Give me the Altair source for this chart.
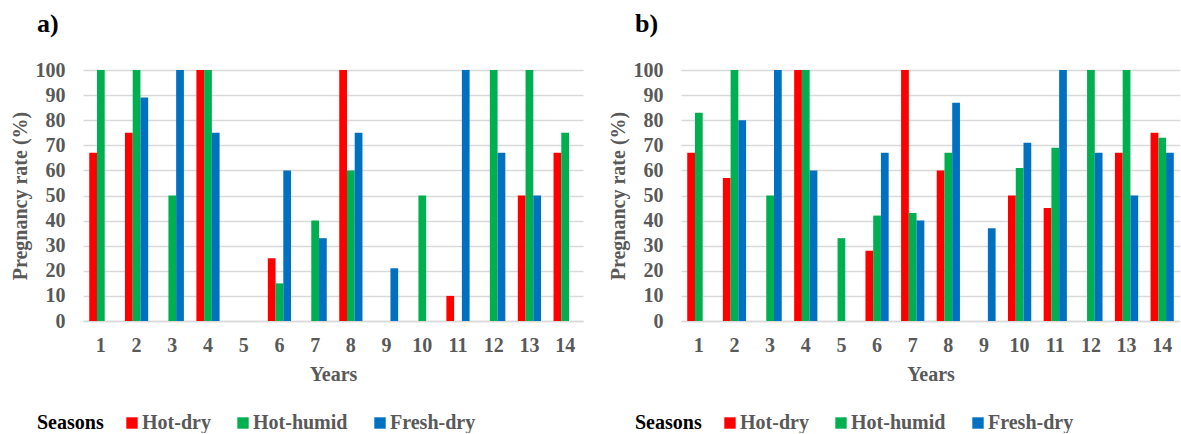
import altair as alt
import pandas as pd

years = list(range(1, 15))
seasons = ["Hot-dry", "Hot-humid", "Fresh-dry"]
colors = ["#FF0000", "#00B050", "#0070C0"]

a_hot_dry = [67, 75, 0, 100, 0, 25, 0, 100, 0, 0, 10, 0, 50, 67]
a_hot_humid = [100, 100, 50, 100, 0, 15, 40, 60, 0, 50, 0, 100, 100, 75]
a_fresh_dry = [0, 89, 100, 75, 0, 60, 33, 75, 21, 0, 100, 67, 50, 0]

b_hot_dry = [67, 57, 0, 100, 0, 28, 100, 60, 0, 50, 45, 0, 67, 75]
b_hot_humid = [83, 100, 50, 100, 33, 42, 43, 67, 0, 61, 69, 100, 100, 73]
b_fresh_dry = [0, 80, 100, 60, 0, 67, 40, 87, 37, 71, 100, 67, 50, 67]

FONT = "Liberation Serif"
GRAY = "#595959"


def make_df(series):
    rows = []
    for season, vals in zip(seasons, series):
        for y, v in zip(years, vals):
            rows.append({"Year": y, "Season": season, "Rate": v})
    return pd.DataFrame(rows)


def panel(series, label, width):
    df = make_df(series)
    return alt.Chart(df).mark_bar().encode(
        x=alt.X("Year:O",
                scale=alt.Scale(paddingInner=0.35, paddingOuter=0.175),
                axis=alt.Axis(title="Years", labelAngle=0, ticks=False,
                              labelPadding=14, titlePadding=9,
                              domainColor="#D9D9D9", domainWidth=1.5)),
        xOffset=alt.XOffset("Season:N", sort=seasons,
                            scale=alt.Scale(domain=seasons, paddingInner=0, paddingOuter=0)),
        y=alt.Y("Rate:Q", scale=alt.Scale(domain=[0, 100], nice=False),
                axis=alt.Axis(title="Pregnancy rate (%)", values=list(range(0, 101, 10)),
                              ticks=False, domain=False, labelPadding=18, titlePadding=5,
                              grid=True, gridColor="#D9D9D9", gridWidth=1.5)),
        color=alt.Color("Season:N", sort=seasons,
                        scale=alt.Scale(domain=seasons, range=colors),
                        legend=alt.Legend(title="Seasons", orient="none", legendX=-46, legendY=343,
                                          direction="horizontal", titleOrient="left",
                                          titleColor="black", titleFont=FONT, titleFontSize=20,
                                          titleFontWeight="bold", titlePadding=18,
                                          labelFont=FONT, labelFontSize=20, labelFontWeight="bold",
                                          labelColor=GRAY, symbolType="square", symbolSize=130,
                                          symbolStrokeWidth=0, symbolOpacity=1,
                                          columnPadding=22, labelOffset=0)),
    ).properties(
        width=width, height=251,
        title=alt.TitleParams(label, anchor="start", frame="group", dx=-46, offset=23,
                              font=FONT, fontSize=26, fontWeight="bold", color="black"),
    )


chart = alt.hconcat(
    panel([a_hot_dry, a_hot_humid, a_fresh_dry], "a)", 500),
    panel([b_hot_dry, b_hot_humid, b_fresh_dry], "b)", 499),
    spacing=25,
).resolve_scale(color="independent", x="independent", y="independent").resolve_legend(
    color="independent"
).configure_axis(
    labelFont=FONT, labelFontSize=20, labelFontWeight="bold", labelColor=GRAY,
    titleFont=FONT, titleFontSize=20, titleFontWeight="bold", titleColor=GRAY,
).configure_view(stroke=None).properties(
    padding={"left": 10, "top": 11, "right": 0, "bottom": 0}
)

chart.save("out.html", embed_options={"renderer": "svg", "actions": False})
